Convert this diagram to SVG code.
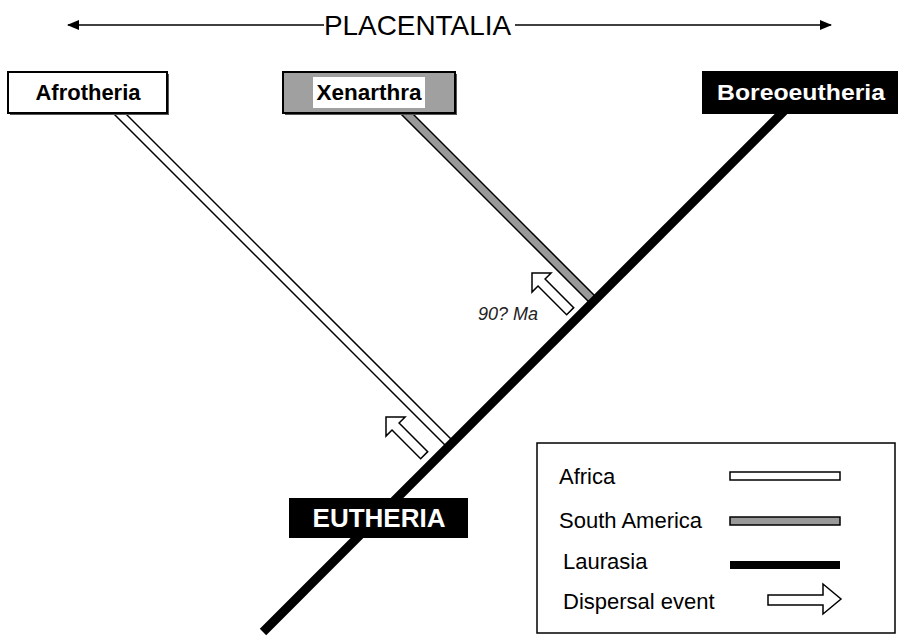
<svg xmlns="http://www.w3.org/2000/svg" xmlns:xlink="http://www.w3.org/1999/xlink" width="905" height="638" viewBox="0 0 905 638">
<style>
.t{font-family:"Liberation Sans",Arial,sans-serif;}
.b{font-weight:bold;font-size:22px;}
.leg{font-size:22px;fill:#000;}
.box{stroke:#000;stroke-width:2;}
</style>
<defs>
<marker id="ah" markerWidth="12" markerHeight="10" refX="11" refY="5" orient="auto-start-reverse" markerUnits="userSpaceOnUse">
<path d="M0,0 L12,5 L0,10 z" fill="#000"/>
</marker>
<polygon id="darrow" points="0,0 -13.5,-13.5 -13.5,-5 -54,-5 -54,5 -13.5,5 -13.5,13.5" fill="#fff" stroke="#000" stroke-width="1.5" stroke-linejoin="miter"/>
</defs>
<rect width="905" height="638" fill="#fff"/>

<g id="placentalia">
<line x1="68" y1="25" x2="324" y2="25" stroke="#000" stroke-width="1.5" marker-start="url(#ah)"/>
<line x1="515" y1="25" x2="831" y2="25" stroke="#000" stroke-width="1.5" marker-end="url(#ah)"/>
<text class="t" x="324" y="35" font-size="28" textLength="187" lengthAdjust="spacingAndGlyphs">PLACENTALIA</text>
</g>

<g id="connectors">
<path d="M110,104 L450.5,444.5" stroke="#000" stroke-width="10" fill="none"/>
<path d="M110,104 L450.5,444.5" stroke="#fff" stroke-width="7" fill="none"/>
<path d="M397,104 L594,301" stroke="#000" stroke-width="10" fill="none"/>
<path d="M397,104 L594,301" stroke="#999" stroke-width="7" fill="none"/>
<path d="M263,632 L795,100" stroke="#000" stroke-width="9" fill="none"/>
</g>

<g id="afrotheria">
<rect x="10" y="74" width="159" height="41" fill="#555"/>
<rect class="box" x="8" y="72" width="159" height="41" fill="#fff"/>
<text class="t b" x="88" y="100" text-anchor="middle" textLength="105" lengthAdjust="spacingAndGlyphs">Afrotheria</text>
</g>

<g id="xenarthra">
<rect x="285" y="74" width="172" height="41" fill="#555"/>
<rect class="box" x="283" y="72" width="172" height="41" fill="#a0a0a0"/>
<rect x="313" y="77" width="112" height="31" fill="#fff"/>
<text class="t b" x="369" y="100" text-anchor="middle" textLength="105" lengthAdjust="spacingAndGlyphs">Xenarthra</text>
</g>

<g id="boreoeutheria">
<rect class="box" x="703" y="72" width="194" height="41" fill="#000"/>
<text class="t b" x="801" y="100" text-anchor="middle" fill="#fff" textLength="168" lengthAdjust="spacingAndGlyphs">Boreoeutheria</text>
</g>

<g id="eutheria">
<rect x="289" y="498" width="179" height="40" fill="#000"/>
<text class="t" x="379" y="527" text-anchor="middle" font-size="26" font-weight="bold" fill="#fff">EUTHERIA</text>
</g>

<g id="dispersal-xenarthra">
<use xlink:href="#darrow" transform="translate(532,273) rotate(225)"/>
<text class="t" x="478" y="320" font-size="18" font-style="italic" fill="#222">90? Ma</text>
</g>

<g id="dispersal-afrotheria">
<use xlink:href="#darrow" transform="translate(386,417) rotate(225)"/>
</g>

<g id="legend">
<rect x="537" y="443" width="358" height="190" fill="#fff" stroke="#000" stroke-width="1.5"/>
<text class="t leg" x="559" y="484">Africa</text>
<rect x="730" y="472" width="110" height="8" fill="#fff" stroke="#000" stroke-width="1.5"/>
<text class="t leg" x="559" y="528">South America</text>
<rect x="730" y="517" width="110" height="8" fill="#999" stroke="#000" stroke-width="1.5"/>
<text class="t leg" x="563" y="569">Laurasia</text>
<rect x="730" y="561" width="110" height="8" fill="#000"/>
<text class="t leg" x="563" y="609">Dispersal event</text>
<polygon points="768,595 823,595 823,584 841,599 823,614 823,605 768,605" fill="#fff" stroke="#000" stroke-width="1.5"/>
</g>
</svg>
